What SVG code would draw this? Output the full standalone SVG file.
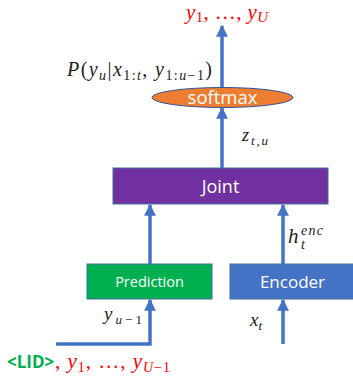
<svg xmlns="http://www.w3.org/2000/svg" width="353" height="382" viewBox="0 0 353 382">
<defs>
<marker id="ah" viewBox="0 0 10 10" refX="9" refY="5" markerWidth="3.4" markerHeight="3.4" orient="auto" markerUnits="strokeWidth">
<path d="M0,0 L10,5 L0,10 z" fill="#4472C4"/>
</marker>
<style>
.edge{stroke:#4472C4;stroke-width:3.5;fill:none}
.box{stroke:#41719C;stroke-width:1}
.lbl{font-family:"Open Sans","Noto Sans",sans-serif;fill:#fff;text-anchor:middle}
.math{font-family:"Liberation Serif","DejaVu Serif",serif;fill:#222}
.it{font-style:italic}
.red{fill:#FF0000}
</style>
</defs>
<rect width="353" height="382" fill="#fff"/>
<g id="connectors">
<line class="edge" x1="222" y1="88" x2="222" y2="26" marker-end="url(#ah)"/>
<line class="edge" x1="222" y1="168" x2="222" y2="108" marker-end="url(#ah)"/>
<line class="edge" x1="150" y1="264" x2="150" y2="205" marker-end="url(#ah)"/>
<line class="edge" x1="283" y1="264" x2="283" y2="205" marker-end="url(#ah)"/>
<polyline class="edge" points="56,344 150,344 150,300" marker-end="url(#ah)"/>
<line class="edge" x1="283" y1="344" x2="283" y2="300" marker-end="url(#ah)"/>
</g>
<g id="softmax">
<ellipse cx="222.5" cy="97.5" rx="70.5" ry="10" fill="#ED7D31" stroke="#2F5597" stroke-width="1"/>
<text class="lbl" x="222.5" y="104" font-size="18.5">softmax</text>
</g>
<g id="joint">
<rect class="box" x="113" y="168" width="215" height="36" fill="#7030A0"/>
<text class="lbl" x="220.5" y="193" font-size="18">Joint</text>
</g>
<g id="prediction">
<rect class="box" x="87" y="264" width="125" height="35" fill="#00B050"/>
<text class="lbl" x="149.5" y="287" font-size="14.5">Prediction</text>
</g>
<g id="encoder">
<rect class="box" x="230" y="264" width="124" height="35" fill="#4472C4"/>
<text class="lbl" x="292.5" y="288" font-size="17">Encoder</text>
</g>
<g id="labels">
<text class="math red" x="186" y="19" font-size="21" textLength="82" lengthAdjust="spacing"><tspan class="it">y</tspan><tspan font-size="15" dy="3">1</tspan><tspan dy="-3">, …, </tspan><tspan class="it">y</tspan><tspan class="it" font-size="15" dy="3">U</tspan></text>
<text class="math" x="67" y="76" font-size="20" textLength="145" lengthAdjust="spacing"><tspan class="it">P</tspan>(<tspan class="it">y</tspan><tspan class="it" font-size="14" dy="4">u</tspan><tspan dy="-4">|</tspan><tspan class="it">x</tspan><tspan font-size="14" dy="4">1:<tspan class="it">t</tspan></tspan><tspan dy="-4">, </tspan><tspan class="it">y</tspan><tspan font-size="14" dy="4">1:<tspan class="it">u</tspan>−1</tspan><tspan dy="-4">)</tspan></text>
<text class="math" x="242" y="141" font-size="18" textLength="26" lengthAdjust="spacing"><tspan class="it">z</tspan><tspan font-size="13" dy="4"><tspan class="it">t</tspan>,<tspan class="it">u</tspan></tspan></text>
<text class="math it" x="288" y="243" font-size="21">h</text>
<text class="math it" x="301" y="235" font-size="14" textLength="22" lengthAdjust="spacing">enc</text>
<text class="math it" x="301" y="249" font-size="14">t</text>
<text class="math" x="104" y="320" font-size="19" textLength="38" lengthAdjust="spacing"><tspan class="it">y</tspan><tspan font-size="13" dy="4"><tspan class="it">u</tspan>−1</tspan></text>
<text class="math" x="250" y="326" font-size="19"><tspan class="it">x</tspan><tspan class="it" font-size="13" dy="4">t</tspan></text>
<text x="7" y="368" font-family="'Open Sans','Noto Sans',sans-serif" font-weight="bold" font-size="17" fill="#00B050">&lt;LID&gt;</text>
<text class="math red" x="55" y="368" font-size="21" textLength="115" lengthAdjust="spacing">, <tspan class="it">y</tspan><tspan font-size="14" dy="4">1</tspan><tspan dy="-4">, …, </tspan><tspan class="it">y</tspan><tspan font-size="14" dy="4"><tspan class="it">U</tspan>−1</tspan></text>
</g>
</svg>
